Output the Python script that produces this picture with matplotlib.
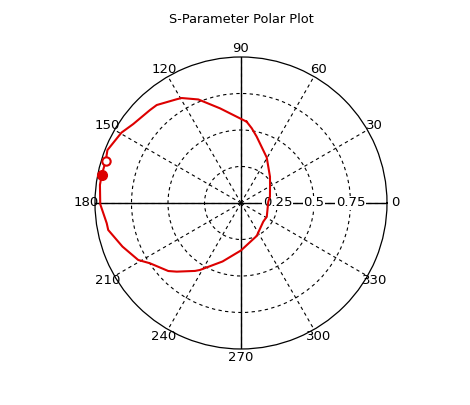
import numpy as np
import matplotlib
matplotlib.use('Agg')
import matplotlib.pyplot as plt

# curve: angle (deg, unwrapped so the line stays continuous) and magnitude
theta_deg = [86.0, 102.5, 112.4, 119.5, 121.8, 130.7, 134.4, 143.8, 149.5, 158.4,
             162.8, 168.6, 172.7, 180.5, 188.6, 191.5, 200.2, 209.0, 213.5, 223.1,
             226.9, 235.9, 238.5, 252.5, 270.0, 295.5, 320.0, 332.0, 362.7, 372.3,
             391.8, 402.2, 420.5, 436.7, 441.8, 446.0]
mag = [0.558, 0.664, 0.767, 0.826, 0.836, 0.885, 0.891, 0.915, 0.950, 0.984,
       0.970, 0.973, 0.974, 0.964, 0.930, 0.928, 0.865, 0.805, 0.748, 0.682,
       0.644, 0.562, 0.538, 0.420, 0.325, 0.250, 0.199, 0.200, 0.187, 0.203,
       0.234, 0.268, 0.358, 0.467, 0.517, 0.558]

# marker points
open_pt = (162.8, 0.970)
filled_pt = (168.6, 0.973)

angle_ticks = list(range(0, 360, 30))
r_ticks = [0.25, 0.5, 0.75]
r_labels = ['0.25', '0.5', '0.75']

red = '#dd0000'

fig = plt.figure(figsize=(4.7, 4.05), dpi=100)
ax = fig.add_axes([0.2021, 0.1383, 0.6213, 0.721], projection='polar')

ax.set_ylim(0, 1)
ax.set_thetagrids(angle_ticks, [str(a) for a in angle_ticks], fontsize=9.5)
ax.set_rgrids(r_ticks, labels=['']*len(r_ticks))
ax.tick_params(axis='x', pad=-4.5)
ax.grid(True, linestyle=(0, (3, 3)), color='black', linewidth=0.8)
ax.spines['polar'].set_linewidth(0.9)

# solid main axes
for a in [0, 90, 180, 270]:
    ax.axvline(np.deg2rad(a), color='black', linewidth=1.0, zorder=2)

for r, lab in zip(r_ticks, r_labels):
    ax.text(0, r, lab, ha='center', va='center', fontsize=9.5, zorder=3,
            bbox=dict(facecolor='white', edgecolor='none', pad=0.3))

ax.plot(np.deg2rad(theta_deg), mag, color=red, linewidth=1.5, zorder=4,
        solid_joinstyle='round')
ax.plot(np.deg2rad(open_pt[0]), open_pt[1], 'o', ms=6, mfc='white',
        mec=red, mew=1.5, zorder=5, clip_on=False)
ax.plot(np.deg2rad(filled_pt[0]), filled_pt[1], 'o', ms=7, color=red,
        zorder=5, clip_on=False)

fig.text(0.513, 0.951, 'S-Parameter Polar Plot', ha='center', va='center',
         fontsize=9.3)

fig.savefig('out.png', dpi=100)
